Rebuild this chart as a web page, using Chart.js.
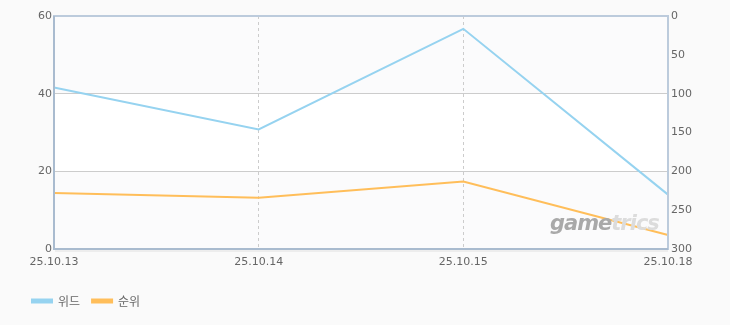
<!DOCTYPE html>
<html>
<head>
<meta charset="utf-8">
<script src="https://cdn.jsdelivr.net/npm/chart.js@4.4.0/dist/chart.umd.min.js"></script>
<style>
  html, body { margin: 0; padding: 0; background: #fafafa; }
  #wrap { position: relative; width: 730px; height: 325px; }
  #logo {
    position: absolute; left: 550px; top: 211px;
    font: italic bold 21px "DejaVu Sans", sans-serif; letter-spacing: -1px;
    color: #a9a9a9; pointer-events: none;
  }
  #logo span { color: #dcdcdc; }
</style>
</head>
<body>
<div id="wrap">
  <canvas id="chart" width="730" height="325"></canvas>
  <div id="logo">game<span>trics</span></div>
</div>
<script>
const dates = ["25.10.13", "25.10.14", "25.10.15", "25.10.18"];
const shareValues = [41.6, 30.8, 56.7, 14.0];
const rankValues = [228, 234, 213, 282];
const seriesNames = ["위드", "순위"];

const blue = "#96d3f0";
const orange = "#ffbe5a";

// striped background + border, drawn through the left scale
const frame = {
  id: "frame",
  beforeDraw(chart) {
    const { ctx, chartArea: a, scales } = chart;
    const y = scales.y;
    ctx.save();
    ctx.fillStyle = "#ffffff";
    ctx.fillRect(a.left, a.top, a.right - a.left, a.bottom - a.top);
    ctx.fillStyle = "#fbfbfc";
    [[40, 60], [0, 20]].forEach(([lo, hi]) => {
      const t = y.getPixelForValue(hi);
      const b = y.getPixelForValue(lo);
      ctx.fillRect(a.left, t, a.right - a.left, b - t);
    });
    ctx.restore();
  },
  afterDraw(chart) {
    const { ctx, chartArea: a } = chart;
    ctx.save();
    // soft shadow under bottom axis
    ctx.strokeStyle = "rgba(0,0,0,0.05)";
    ctx.lineWidth = 2;
    ctx.beginPath();
    ctx.moveTo(a.left + 1, a.bottom + 2);
    ctx.lineTo(a.right, a.bottom + 2);
    ctx.stroke();
    ctx.strokeStyle = "#bccbdc";
    ctx.lineWidth = 2;
    ctx.strokeRect(a.left, a.top, a.right - a.left, a.bottom - a.top);
    ctx.strokeStyle = "#a9bbcf";
    ctx.beginPath();
    ctx.moveTo(a.left, a.top);
    ctx.lineTo(a.left, a.bottom);
    ctx.lineTo(a.right, a.bottom);
    ctx.stroke();
    ctx.restore();
  }
};

const tickFont = { family: "'DejaVu Sans', sans-serif", size: 11 };

new Chart(document.getElementById("chart"), {
  type: "line",
  data: {
    labels: dates,
    datasets: [
      {
        label: seriesNames[0],
        data: shareValues,
        yAxisID: "y",
        borderColor: blue,
        backgroundColor: blue,
        borderWidth: 2,
        pointRadius: 0,
        tension: 0
      },
      {
        label: seriesNames[1],
        data: rankValues,
        yAxisID: "y2",
        borderColor: orange,
        backgroundColor: orange,
        borderWidth: 2,
        pointRadius: 0,
        tension: 0
      }
    ]
  },
  options: {
    responsive: false,
    animation: false,
    layout: { padding: { left: 20, top: 16, right: 0, bottom: 8 } },
    plugins: {
      tooltip: { enabled: false },
      legend: {
        position: "bottom",
        align: "start",
        labels: {
          boxWidth: 20,
          boxHeight: 3,
          padding: 12,
          color: "#666",
          font: { family: "'Noto Sans CJK KR', sans-serif", size: 12 }
        }
      }
    },
    scales: {
      x: {
        offset: false,
        grid: {
          color: (c) => (c.index === 0 || c.index === dates.length - 1 ? "transparent" : "#cccccc"),
          drawTicks: false
        },
        border: { display: false, dash: [3, 3] },
        ticks: { color: "#666", font: tickFont, padding: 7, maxRotation: 0, autoSkip: false },
        afterFit: (s) => { s.height = 34; }
      },
      y: {
        position: "left",
        min: 0,
        max: 60,
        ticks: { stepSize: 20, color: "#666", font: tickFont, padding: 2 },
        grid: {
          color: (c) => (c.tick.value === 0 || c.tick.value === 60 ? "transparent" : "#cccccc"),
          drawTicks: false
        },
        border: { display: false },
        afterFit: (s) => { s.width = 34; }
      },
      y2: {
        position: "right",
        reverse: true,
        min: 0,
        max: 300,
        ticks: { stepSize: 50, color: "#666", font: tickFont, padding: 3 },
        grid: { display: false, drawTicks: false },
        border: { display: false },
        afterFit: (s) => { s.width = 62; }
      }
    }
  },
  plugins: [frame]
});
</script>
</body>
</html>
